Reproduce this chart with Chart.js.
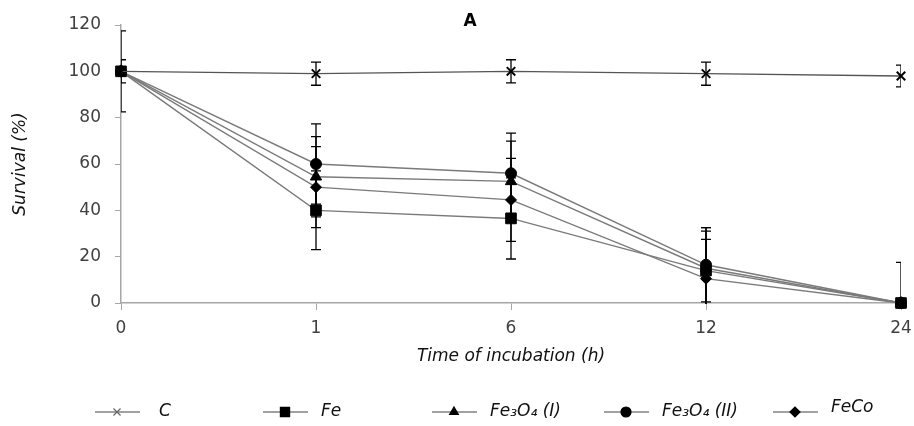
<!DOCTYPE html>
<html>
<head>
<meta charset="utf-8">
<script src="https://cdn.jsdelivr.net/npm/chart.js@4/dist/chart.umd.min.js"></script>
<style>
  body { margin: 0; background: #fff; }
  #wrap { width: 914px; height: 426px; position: relative; }
</style>
</head>
<body>
<div id="wrap"><canvas id="chart"></canvas></div>
<script>
// データ
const hours = ["0", "1", "6", "12", "24"];
const yTicks = [0, 20, 40, 60, 80, 100, 120];

const seriesNames = ["C", "Fe", "Fe\u2083O\u2084 (I)", "Fe\u2083O\u2084 (II)", "FeCo"];
const survC      = [100, 99, 100, 99, 98];
const survFe     = [100, 40, 36.5, 14, 0];
const survFe3O4a = [100, 54.5, 52.5, 15, 0];
const survFe3O4b = [100, 60, 56, 16.5, 0];
const survFeCo   = [100, 50, 44.5, 10.5, 0];

// エラーバー (±)
const errC      = [5, 5, 5, 5, 4.7];
const errFe     = [17.5, 17, 17.5, 18.5, 17.5];
const errFe3O4a = [0, 17.3, 17.4, 16, 0];
const errFe3O4b = [0, 17.3, 17.3, 16, 0];
const errFeCo   = [0, 17.5, 17.9, 17, 0];

const AXIS_GRAY = "#a6a6a6";
const TEXT_GRAY = "#404040";
const FONT = "'DejaVu Sans', sans-serif";

function makeSet(i, data, errs, style, radius, lineColor) {
  return {
    label: seriesNames[i],
    data: data,
    errors: errs,
    borderColor: lineColor,
    borderWidth: 1.4,
    pointStyle: style,
    pointRadius: radius,
    pointHoverRadius: radius,
    pointBackgroundColor: "#000",
    pointBorderColor: "#000",
    pointBorderWidth: style === "crossRot" ? 2 : 1,
    tension: 0,
    clip: false
  };
}

const datasets = [
  makeSet(0, survC, errC, "crossRot", 6, "#555"),
  makeSet(1, survFe, errFe, "rect", 7.5, "#7a7a7a"),
  makeSet(2, survFe3O4a, errFe3O4a, "triangle", 6.5, "#7a7a7a"),
  makeSet(3, survFe3O4b, errFe3O4b, "circle", 5.5, "#7a7a7a"),
  makeSet(4, survFeCo, errFeCo, "rectRot", 5.5, "#7a7a7a")
];

// エラーバー描画
const errorBars = {
  id: "errorBars",
  beforeDatasetsDraw(chart) {
    const ctx = chart.ctx;
    const area = chart.chartArea;
    const xs = chart.scales.x, ys = chart.scales.y;
    ctx.save();
    ctx.beginPath();
    ctx.rect(area.left, area.top - 1, area.right - area.left, area.bottom - area.top + 2);
    ctx.clip();
    ctx.strokeStyle = "#000";
    ctx.lineWidth = 1.3;
    chart.data.datasets.forEach(ds => {
      ds.data.forEach((v, i) => {
        const e = ds.errors[i];
        if (!e) return;
        const x = xs.getPixelForValue(i);
        const yt = ys.getPixelForValue(v + e);
        const yb = ys.getPixelForValue(v - e);
        ctx.beginPath();
        ctx.moveTo(x, yt); ctx.lineTo(x, yb);
        ctx.moveTo(x - 5, yt); ctx.lineTo(x + 5, yt);
        ctx.moveTo(x - 5, yb); ctx.lineTo(x + 5, yb);
        ctx.stroke();
      });
    });
    ctx.restore();
  }
};

// タイトルと凡例
const legendStarts = [95, 263, 432, 604, 773];
const extras = {
  id: "extras",
  afterDraw(chart) {
    const ctx = chart.ctx;
    ctx.save();
    ctx.fillStyle = "#000";
    ctx.font = "bold 17px " + FONT;
    ctx.textAlign = "center";
    ctx.textBaseline = "middle";
    ctx.fillText("A", 470, 22);

    const y = 412;
    chart.data.datasets.forEach((ds, i) => {
      const x0 = legendStarts[i];
      ctx.strokeStyle = "#444";
      ctx.lineWidth = 1.2;
      ctx.beginPath();
      ctx.moveTo(x0, y); ctx.lineTo(x0 + 45, y);
      ctx.stroke();
      ctx.fillStyle = "#000";
      ctx.strokeStyle = ds.pointStyle === "crossRot" ? "#666" : "#000";
      Chart.helpers.drawPoint(ctx, {
        pointStyle: ds.pointStyle,
        radius: ds.pointStyle === "rect" ? 6.5 : 5,
        rotation: 0,
        borderWidth: 1
      }, x0 + 22, y);
      ctx.fillStyle = "#111";
      ctx.font = "italic 17px " + FONT;
      ctx.textAlign = "left";
      ctx.fillText(ds.label, x0 + (i === 0 ? 64 : 58), i === 4 ? y - 4 : y);
    });
    ctx.restore();
  }
};

new Chart(document.getElementById("chart"), {
  type: "line",
  data: { labels: hours, datasets: datasets },
  options: {
    responsive: true,
    maintainAspectRatio: false,
    animation: false,
    layout: { padding: { top: 25, right: 13, bottom: 53, left: 0 } },
    plugins: {
      legend: { display: false },
      tooltip: { enabled: false }
    },
    scales: {
      x: {
        type: "category",
        offset: false,
        afterFit(scale) {
          scale.height = 70;
          scale.paddingRight = 0;
          scale.paddingLeft = 0;
        },
        grid: { drawOnChartArea: false, tickLength: 7, color: AXIS_GRAY },
        border: { color: AXIS_GRAY, width: 1.5 },
        ticks: { color: TEXT_GRAY, font: { family: FONT, size: 17 }, padding: 8, maxRotation: 0 },
        title: {
          display: true,
          text: "Time of incubation (h)",
          color: "#111",
          font: { family: FONT, size: 17, style: "italic" },
          padding: { top: 0, bottom: 6 }
        }
      },
      y: {
        min: 0,
        max: 120,
        afterFit(scale) { scale.width = 121; },
        afterBuildTicks(scale) { scale.ticks = yTicks.map(v => ({ value: v })); },
        grid: { drawOnChartArea: false, tickLength: 6, color: AXIS_GRAY },
        border: { color: AXIS_GRAY, width: 1.5 },
        ticks: { color: TEXT_GRAY, font: { family: FONT, size: 17 }, padding: 14 },
        title: {
          display: true,
          text: "Survival (%)",
          color: "#111",
          font: { family: FONT, size: 17, style: "italic" },
          padding: { top: 10, bottom: 0 }
        }
      }
    }
  },
  plugins: [errorBars, extras]
});
</script>
</body>
</html>
